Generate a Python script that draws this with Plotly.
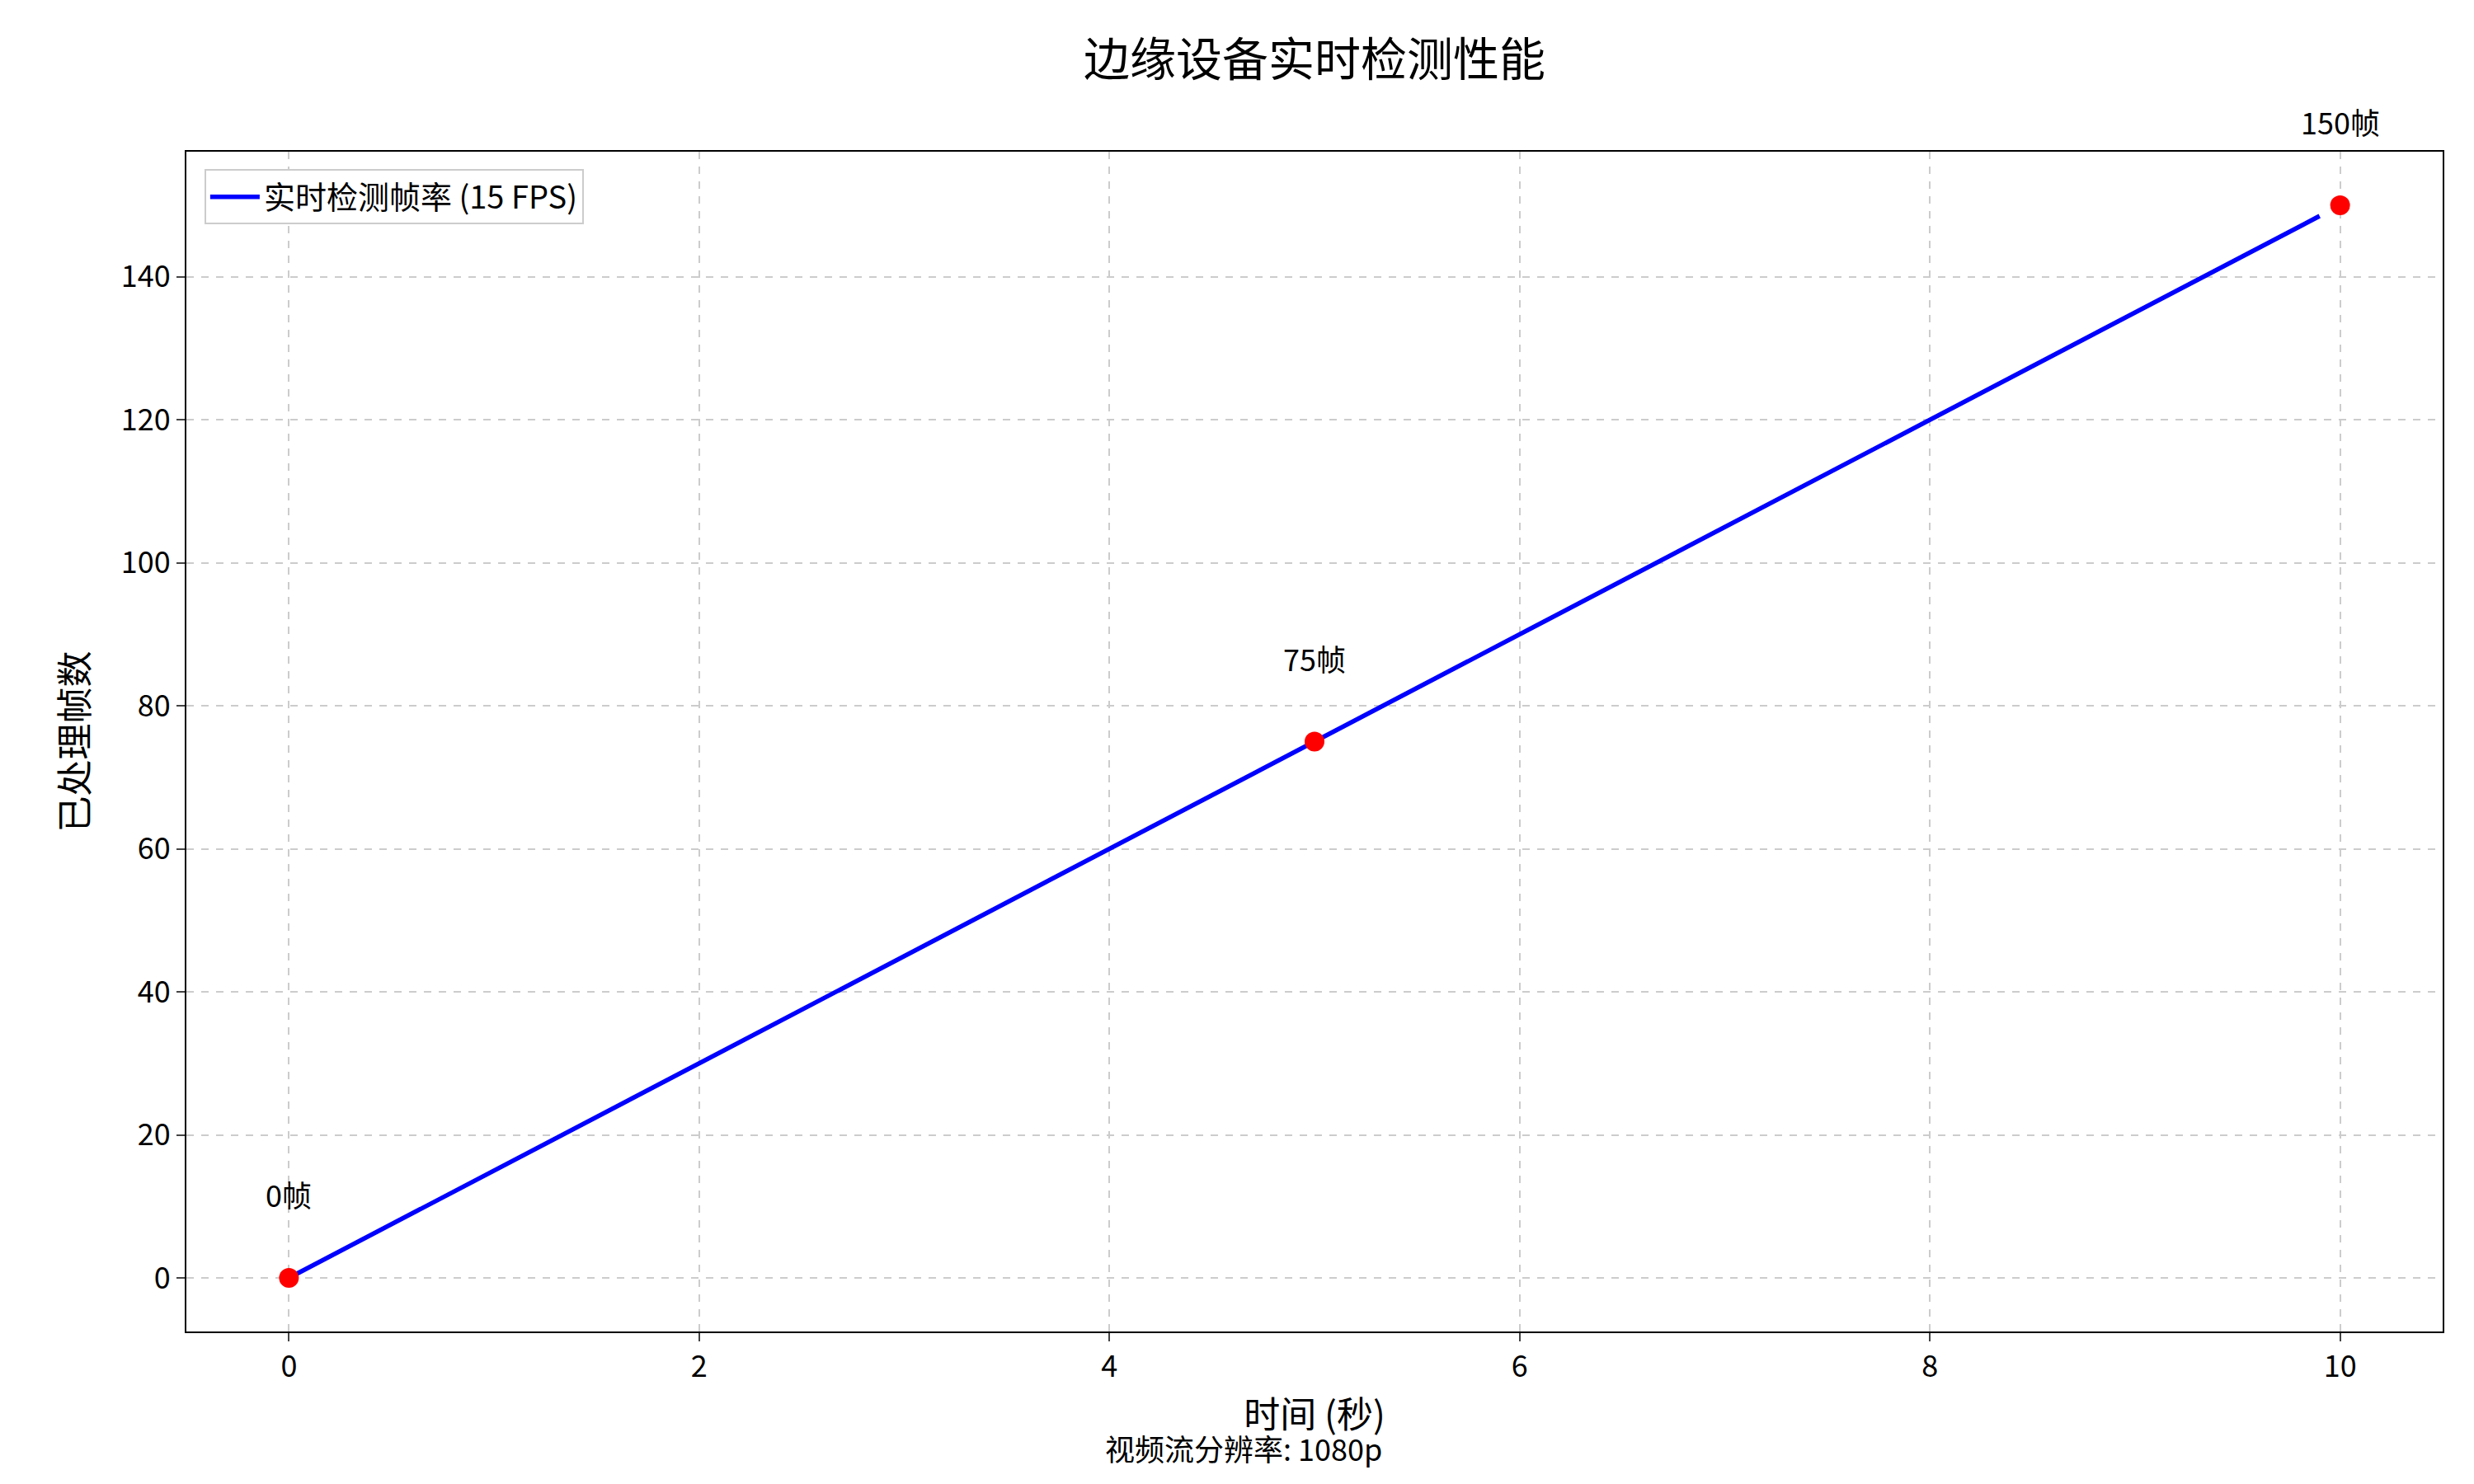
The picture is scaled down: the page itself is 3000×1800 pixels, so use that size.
import numpy as np
import plotly.graph_objects as go

line_t = [0.0, 9.9]
line_frames = [0.0, 148.5]
point_t = [0, 5, 10]
point_frames = [0, 75, 150]
point_labels = ["0帧", "75帧", "150帧"]
x_ticks = [0, 2, 4, 6, 8, 10]
y_ticks = [0, 20, 40, 60, 80, 100, 120, 140]

F = "Noto Sans CJK SC, Microsoft YaHei, sans-serif"
fig = go.Figure()
fig.add_trace(go.Scatter(x=line_t, y=line_frames, mode="lines",
                         line=dict(color="blue", width=5.5),
                         name="实时检测帧率 (15 FPS)"))
fig.add_trace(go.Scatter(x=point_t, y=point_frames, mode="markers",
                         marker=dict(color="red", size=24), showlegend=False))
for x, y, t in zip(point_t, point_frames, point_labels):
    fig.add_annotation(x=x, y=y, text=t, showarrow=False, yshift=102,
                       font=dict(family=F, size=36, color="black"))
fig.add_annotation(x=0.4686, y=-0.118, xref="paper", yref="paper", text="视频流分辨率: 1080p",
                   showarrow=False, font=dict(family=F, size=36, color="black"))
ax = dict(showline=True, mirror=True, linecolor="black", linewidth=2,
          showgrid=True, gridcolor="#cccccc", griddash="dash", gridwidth=2,
          zeroline=False, ticks="outside", ticklen=10, tickwidth=2,
          tickfont=dict(family=F, size=36, color="black"))
fig.update_xaxes(**ax, range=[-0.5, 10.5], tickvals=x_ticks,
                 title=dict(text="时间 (秒)", font=dict(family=F, size=44, color="black"), standoff=22))
fig.update_yaxes(**ax, range=[-7.5, 157.5], tickvals=y_ticks,
                 title=dict(text="已处理帧数", font=dict(family=F, size=44, color="black"), standoff=25))
fig.update_layout(width=3000, height=1800, plot_bgcolor="white", paper_bgcolor="white",
                  margin=dict(l=218, r=46, t=176, b=193),
                  title=dict(text="边缘设备实时检测性能", x=0.5, xref="paper", xanchor="center", y=0.975,
                             font=dict(family=F, size=56, color="black")),
                  legend=dict(x=0.008, y=0.985, xanchor="left", yanchor="top",
                              bordercolor="#cccccc", borderwidth=2, bgcolor="white",
                              itemwidth=60,
                              font=dict(family=F, size=38, color="black")))
fig.write_html("out.html")
